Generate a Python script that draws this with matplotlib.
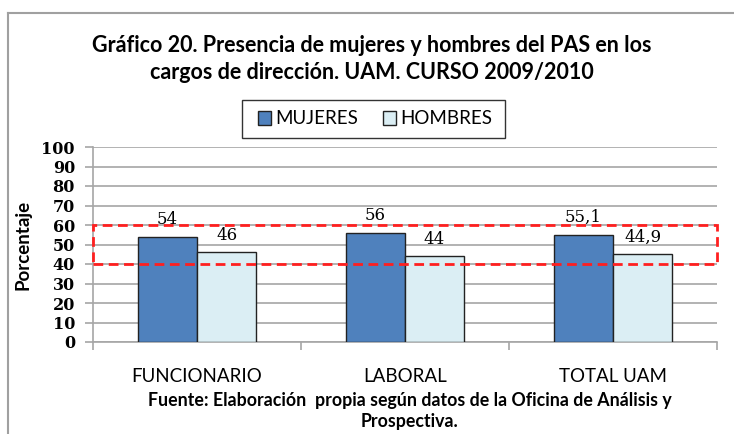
import numpy as np
import matplotlib.pyplot as plt
from matplotlib.patches import Rectangle
from matplotlib.lines import Line2D

categories = ["FUNCIONARIO", "LABORAL", "TOTAL UAM"]
mujeres = [54, 56, 55.1]
hombres = [46, 44, 44.9]
mujeres_labels = ["54", "56", "55,1"]
hombres_labels = ["46", "44", "44,9"]
band_low, band_high = 40, 60

title = ("Gráfico 20. Presencia de mujeres y hombres del PAS en los\n"
         "cargos de dirección. UAM. CURSO 2009/2010")
fuente = ("Fuente: Elaboración  propia según datos de la Oficina de Análisis y\n"
          "Prospectiva.")

sans = "Lato"
serif = "DejaVu Serif"
W, H = 734, 434

fig = plt.figure(figsize=(W / 100, H / 100), dpi=100)
ax = fig.add_axes([93 / W, (H - 342) / H, 624 / W, 195 / H])

x = np.arange(len(categories))
bw = 0.284
b1 = ax.bar(x - bw / 2, mujeres, bw, color="#4F81BD", edgecolor="#222222", linewidth=1, label="MUJERES", zorder=3)
b2 = ax.bar(x + bw / 2, hombres, bw, color="#DBEEF4", edgecolor="#222222", linewidth=1, label="HOMBRES", zorder=3)

for bars, labels in [(b1, mujeres_labels), (b2, hombres_labels)]:
    for rect, txt in zip(bars, labels):
        ax.annotate(txt, (rect.get_x() + rect.get_width() / 2, rect.get_height()), xytext=(0, 6),
                    textcoords="offset points", ha="center", va="bottom", fontsize=12,
                    family=serif, zorder=5)

ax.set_xlim(-0.5, len(categories) - 0.5)
ax.set_ylim(0, 100)
ax.set_yticks(np.arange(0, 101, 10))
ax.yaxis.grid(True, color="#A6A6A6", linewidth=1.2, zorder=0)
ax.set_axisbelow(True)
for s in ["top", "right"]:
    ax.spines[s].set_visible(False)
for s in ["left", "bottom"]:
    ax.spines[s].set_color("#A6A6A6")
    ax.spines[s].set_linewidth(1.2)

# category boundaries as major ticks, names as minor ticks
ax.set_xticks(np.arange(-0.5, len(categories)))
ax.set_xticklabels([])
ax.set_xticks(x, minor=True)
ax.set_xticklabels(categories, minor=True, fontsize=13.5, family=sans)
ax.tick_params(axis="x", which="major", length=6, color="#A6A6A6", width=1.2)
ax.tick_params(axis="x", which="minor", length=0, pad=19)
ax.tick_params(axis="y", length=6, color="#A6A6A6", width=1.2, pad=7)
for lab in ax.get_yticklabels():
    lab.set_family(serif)
    lab.set_fontsize(11.5)
    lab.set_fontweight("bold")

ax.set_ylabel("Porcentaje", fontsize=13.5, fontweight="bold", family=sans)
ax.yaxis.set_label_coords(-(93 - 31) / 624, 0.5)

# dashed red highlight band
ax.add_patch(Rectangle((-0.5, band_low), len(categories), band_high - band_low, fill=False,
                       edgecolor="#FF1F1F", linestyle=(0, (3.5, 2)), linewidth=2,
                       zorder=6, clip_on=False))

fig.text(372 / W, 1 - 59 / H, title, ha="center", va="center", fontsize=15.5,
         fontweight="bold", family=sans, linespacing=1.3)

leg = fig.legend(handles=[b1, b2], loc="center", bbox_to_anchor=(375 / W, 1 - 119 / H),
                 ncol=2, frameon=False,
                 prop={"family": sans, "size": 13.5}, handlelength=0.7, handleheight=0.7,
                 handletextpad=0.25, columnspacing=1.3)
# legend frame
fig.add_artist(Rectangle((242 / W, 1 - 138 / H), 263 / W, 38 / H, fill=False,
                         edgecolor="#333333", linewidth=1.0, transform=fig.transFigure))

fig.text(410 / W, 1 - 411 / H, fuente, ha="center", va="center", fontsize=12.8,
         fontweight="bold", family=sans, linespacing=1.22)

# outer chart border
fig.add_artist(Line2D([7.5 / W, 1], [1 - 12.5 / H, 1 - 12.5 / H], color="#A0A0A0", linewidth=1.5))
fig.add_artist(Line2D([7.5 / W, 7.5 / W], [0, 1 - 12.5 / H], color="#A0A0A0", linewidth=1.5))

fig.savefig("out.png", dpi=100)
